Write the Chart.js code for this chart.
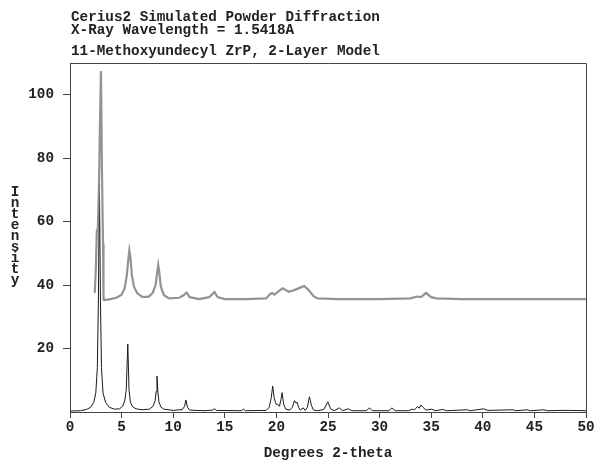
<!DOCTYPE html>
<html>
<head>
<meta charset="utf-8">
<script src="https://cdn.jsdelivr.net/npm/chart.js@4.4.1/dist/chart.umd.min.js"></script>
<style>
html,body{margin:0;padding:0;background:#fff;}
#wrap{width:601px;height:473px;position:relative;}
</style>
</head>
<body>
<div id="wrap"><canvas id="c" width="601" height="473"></canvas></div>
<script>
// Titles and axis labels
const titleLines = ["Cerius2 Simulated Powder Diffraction", "X-Ray Wavelength = 1.5418A"];
const subTitle = "11-Methoxyundecyl ZrP, 2-Layer Model";
const xTitle = "Degrees 2-theta";
const yTitle = "Intensity";
const xTickValues = [0, 5, 10, 15, 20, 25, 30, 35, 40, 45, 50];
const yTickValues = [20, 40, 60, 80, 100];

// Simulated pattern (black) : 2-theta and intensity
const simTheta = [0, 1.0, 1.6, 2.0, 2.3, 2.5, 2.65, 2.75, 2.85, 2.95, 3.05, 3.2, 3.45, 3.8, 4.3, 4.8, 5.1, 5.3, 5.45, 5.6, 5.72, 5.85, 6.05, 6.4, 7.0, 7.7, 8.05, 8.25, 8.35, 8.43, 8.52, 8.62, 8.8, 9.1, 10.0, 10.9, 11.1, 11.23, 11.38, 11.6, 13.0, 13.8, 14.0, 14.2, 16.6, 16.8, 17.0, 19.0, 19.3, 19.5, 19.64, 19.78, 19.9, 20.0, 20.1, 20.3, 20.45, 20.55, 20.7, 20.9, 21.3, 21.55, 21.75, 21.9, 22.0, 22.15, 22.3, 22.6, 22.8, 23.0, 23.2, 23.4, 23.6, 24.0, 24.6, 24.98, 25.25, 25.6, 26.1, 26.4, 26.96, 27.3, 28.7, 29.03, 29.3, 30.9, 31.2, 31.5, 32.8, 33.2, 33.4, 33.66, 33.85, 34.0, 34.2, 34.5, 35.05, 35.4, 36.1, 36.5, 38.5, 38.8, 40.07, 40.5, 42.9, 43.2, 44.3, 44.6, 45.9, 46.3, 47.5, 48.5, 50];
const simIntensity = [0.3, 0.4, 0.8, 1.5, 3, 6, 14, 35, 72, 35, 14, 6, 3, 1.5, 0.9, 1.0, 1.8, 3.5, 7, 21.4, 7, 3.2, 1.7, 1.0, 0.7, 0.9, 1.8, 3.6, 6.5, 11.3, 6, 3.2, 1.6, 0.9, 0.5, 0.8, 1.8, 3.8, 1.5, 0.6, 0.4, 0.6, 1.0, 0.5, 0.4, 0.9, 0.4, 0.5, 1.5, 4.5, 8.2, 4.5, 3.1, 2.3, 2.5, 1.8, 4, 6.1, 2.5, 0.9, 0.6, 1.5, 3.6, 2.8, 3.1, 1.5, 0.6, 1.3, 0.5, 1.5, 4.8, 2, 0.6, 0.4, 0.8, 3.2, 1, 0.4, 1.3, 0.4, 1.0, 0.4, 0.4, 1.3, 0.4, 0.4, 1.3, 0.4, 0.4, 0.9, 0.7, 1.7, 1.2, 2.2, 1.5, 0.6, 0.9, 0.4, 0.8, 0.4, 0.7, 0.4, 1.0, 0.5, 0.7, 0.4, 0.7, 0.4, 0.7, 0.4, 0.5, 0.5, 0.4];

// Offset pattern (grey)
const expTheta = [2.4, 2.5, 2.6, 2.7, 2.8, 2.9, 3.0, 3.1, 3.2, 3.25, 3.3, 3.8, 4.5, 5.0, 5.3, 5.5, 5.65, 5.75, 5.85, 6.0, 6.2, 6.5, 7.0, 7.6, 8.0, 8.3, 8.45, 8.55, 8.65, 8.8, 9.1, 9.6, 10.6, 11.0, 11.3, 11.6, 12.5, 13.5, 14.0, 14.3, 15.0, 17.0, 19.0, 19.4, 19.6, 19.8, 20.2, 20.6, 21.2, 21.8, 22.3, 22.7, 23.1, 23.6, 24.0, 26.0, 28.0, 30.0, 33.0, 33.6, 34.0, 34.5, 35.0, 35.5, 38.0, 41.0, 44.0, 47.0, 50.0];
const expIntensity = [37.5, 45, 57, 58, 70, 90, 107.5, 75, 53, 35.5, 35.3, 35.5, 36, 37, 39, 43, 48, 51, 49, 43, 39.5, 37.5, 36.3, 36.3, 37.5, 40, 44, 46.3, 44, 39.5, 36.8, 35.8, 36, 36.8, 37.6, 36.2, 35.6, 36.2, 37.8, 36.2, 35.6, 35.6, 35.8, 37.2, 37.5, 37.0, 38.0, 39.0, 37.9, 38.5, 39.2, 39.7, 38.5, 36.5, 35.8, 35.6, 35.6, 35.6, 35.8, 36.4, 36.2, 37.5, 36.2, 35.8, 35.6, 35.6, 35.6, 35.6, 35.6];

const FONT = "'Liberation Mono', 'Courier New', monospace";
const INK = '#222';
const FRAME = '#444';

const simData = simTheta.map((x, i) => ({x: x, y: simIntensity[i]}));
const expData = expTheta.map((x, i) => ({x: x, y: expIntensity[i]}));

const textPlugin = {
  id: 'textPlugin',
  afterDraw(chart) {
    const ctx = chart.ctx;
    const ca = chart.chartArea;
    ctx.save();
    ctx.strokeStyle = FRAME;
    ctx.lineWidth = 1;
    ctx.beginPath();
    ctx.moveTo(ca.left, ca.top + 0.5);
    ctx.lineTo(ca.right + 0.5, ca.top + 0.5);
    ctx.lineTo(ca.right + 0.5, ca.bottom);
    ctx.stroke();
    ctx.fillStyle = INK;
    ctx.font = "bold 14.3px " + FONT;
    ctx.textBaseline = 'middle';
    ctx.textAlign = 'left';
    ctx.fillText(titleLines[0], 71, 17);
    ctx.fillText(titleLines[1], 71, 30);
    ctx.fillText(subTitle, 71, 51);
    ctx.textAlign = 'center';
    ctx.fillText(xTitle, (ca.left + ca.right) / 2, 453);
    yTitle.split('').forEach((ch, i) => {
      ctx.fillText(ch, 15, 192 + i * 11);
    });
    ctx.restore();
  }
};

new Chart(document.getElementById('c'), {
  type: 'line',
  data: {
    datasets: [
      {data: expData, borderColor: 'rgba(135,135,135,0.9)', borderWidth: 2.2, pointRadius: 0, tension: 0, fill: false},
      {data: simData, borderColor: '#1a1a1a', borderWidth: 1, pointRadius: 0, tension: 0, fill: false}
    ]
  },
  options: {
    responsive: false,
    animation: false,
    events: [],
    layout: {padding: {left: 0, top: 63, right: 15, bottom: 0}},
    plugins: {legend: {display: false}, tooltip: {enabled: false}, title: {display: false}},
    scales: {
      x: {
        type: 'linear', min: 0, max: 50,
        afterBuildTicks: s => { s.ticks = xTickValues.map(v => ({value: v})); },
        afterFit: s => { s.height = 61; },
        grid: {display: true, drawOnChartArea: false, drawTicks: true, tickLength: 6, color: FRAME, lineWidth: 1},
        border: {display: true, color: FRAME, width: 1},
        ticks: {color: INK, padding: 1, maxRotation: 0, autoSkip: false, font: {family: FONT, size: 14.3, weight: 'bold'}}
      },
      y: {
        type: 'linear', min: 0, max: 110,
        afterBuildTicks: s => { s.ticks = yTickValues.map(v => ({value: v})); },
        afterFit: s => { s.width = 70; },
        grid: {display: true, drawOnChartArea: false, drawTicks: true, tickLength: 7, color: FRAME, lineWidth: 1},
        border: {display: true, color: FRAME, width: 1},
        ticks: {color: INK, padding: 9, autoSkip: false, font: {family: FONT, size: 14.3, weight: 'bold'}}
      }
    }
  },
  plugins: [textPlugin]
});
</script>
</body>
</html>
